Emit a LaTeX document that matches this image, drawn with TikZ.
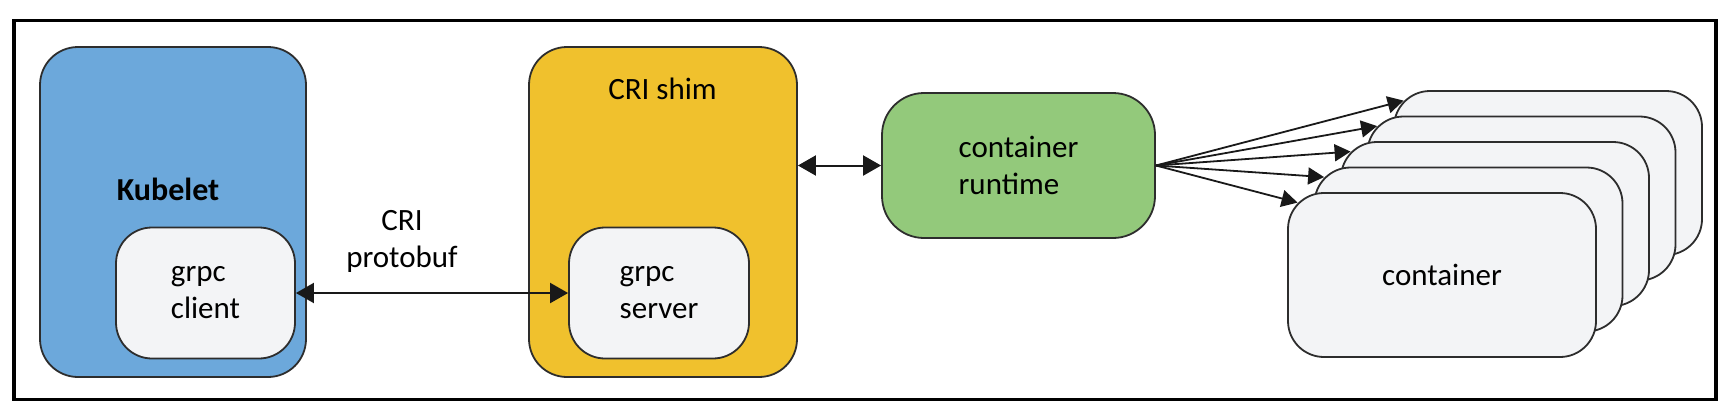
\documentclass[tikz,border=0pt]{standalone}
\usepackage{fontspec}
\setmainfont{Carlito}
\usetikzlibrary{arrows.meta,calc}
\definecolor{kblue}{RGB}{108,168,219}
\definecolor{shimyellow}{RGB}{240,193,45}
\definecolor{rtgreen}{RGB}{147,201,123}
\definecolor{innergray}{RGB}{243,244,246}
\definecolor{edgegray}{RGB}{45,45,45}
\begin{document}
\begin{tikzpicture}[x=1pt,y=-1pt,
  box/.style={draw=edgegray, line width=1.8pt, inner sep=0pt, align=left, font=\fontsize{31}{37}\selectfont},
  lbl/.style={inner sep=0pt, font=\fontsize{31}{37}\selectfont},
  link/.style={line width=2pt, draw=black!90, {Triangle[length=18pt,width=20pt]}-{Triangle[length=18pt,width=20pt]}},
  fan/.style={line width=1.8pt, draw=black!90, -{Triangle[length=16pt,width=17pt]}},
]
\useasboundingbox (0,0) rectangle (1734,418);
\node[draw, line width=3.5pt, minimum width=1702pt, minimum height=379pt, inner sep=0pt] (frame) at (865,210) {};

% Kubelet
\node[box, fill=kblue, rounded corners=38pt, minimum width=266pt, minimum height=330pt] (kubelet) at (173,212) {};
\node[lbl, font=\fontsize{32}{37}\selectfont\bfseries, anchor=base] (kubeletlbl) at (168,200) {Kubelet};
\node[box, fill=innergray, rounded corners=36pt, minimum width=179pt, minimum height=131pt] (client) at (205.5,293) {grpc\\client};

% CRI shim
\node[box, fill=shimyellow, rounded corners=38pt, minimum width=268pt, minimum height=330pt] (shim) at (663,212) {};
\node[lbl, anchor=base] (shimlbl) at (662.5,99) {CRI shim};
\node[box, fill=innergray, rounded corners=36pt, minimum width=180pt, minimum height=131pt] (server) at (659,293) {grpc\\server};

% protocol label
\node[lbl, align=center] (proto) at (402,241) {CRI\\protobuf};

% container runtime
\node[box, fill=rtgreen, rounded corners=42pt, minimum width=273pt, minimum height=145pt] (rt) at (1018.5,165.5) {container\\runtime};

% container stack
\foreach \k in {4,3,2,1} {
  \node[box, fill=innergray, rounded corners=36pt, minimum width=308pt, minimum height=164pt] (c\k) at ({1442+26.5*\k},{275-25.5*\k}) {};
}
\node[box, fill=innergray, rounded corners=36pt, minimum width=308pt, minimum height=164pt] (c0) at (1442,275) {container};

% connectors
\draw[link] (client.east) -- (server.west);
\draw[link] (rt.west -| shim.east) -- (rt.west);
\foreach \k in {0,1,2,3,4} {
  \coordinate (t\k) at ($(c\k.north west)+(10.5,10.5)$);
  \draw[fan] (rt.east) -- (t\k);
}
\end{tikzpicture}
\end{document}
